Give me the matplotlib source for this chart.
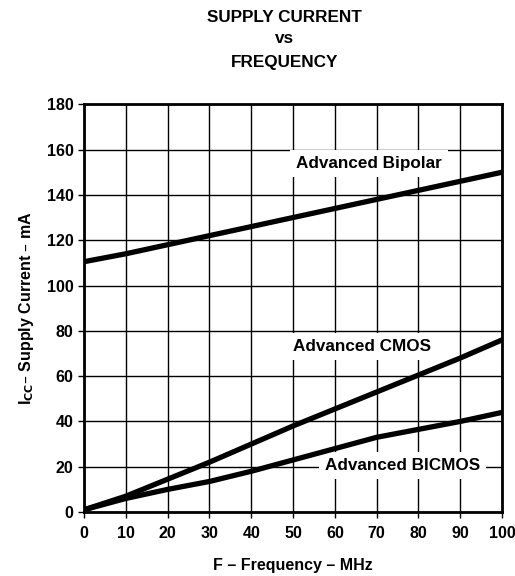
import numpy as np
import matplotlib.pyplot as plt

plt.rcParams['font.family'] = ['Liberation Sans', 'DejaVu Sans']
plt.rcParams['font.weight'] = 'bold'

# frequency (MHz) and supply current (mA)
freq = [0, 10, 20, 30, 40, 50, 60, 70, 80, 90, 100]
bipolar = [110.5, 114, 118, 122, 126, 130, 134, 138, 142, 146, 150]
cmos = [1, 7, 14.5, 22, 30, 38, 45.5, 53, 60.5, 68, 76]
bicmos = [1, 6, 10, 13.5, 18, 23, 28, 33, 36.5, 40, 44]

x_ticks = list(range(0, 101, 10))
y_ticks = list(range(0, 181, 20))

fig = plt.figure(figsize=(5.15, 5.76), dpi=100)
ax = fig.add_axes([0.163, 0.111, 0.812, 0.708])

ax.set_xlim(0, 100)
ax.set_ylim(0, 180)
ax.set_xticks(x_ticks)
ax.set_yticks(y_ticks)
ax.grid(True, color='black', linewidth=1.0)
ax.set_axisbelow(True)

for s in ax.spines.values():
    s.set_linewidth(2.0)
ax.tick_params(axis='both', labelsize=11.5, width=1.0, length=4, direction='out')
ax.tick_params(axis='x', pad=6)

for ys in (bipolar, cmos, bicmos):
    ax.plot(freq, ys, color='black', linewidth=3.8, solid_capstyle='butt', zorder=5)

box = dict(facecolor='white', edgecolor='none', boxstyle='square,pad=0.35')
ax.text(68.2, 154, 'Advanced Bipolar', ha='center', va='center', fontsize=12.3, fontweight='bold', bbox=box, zorder=4)
ax.text(66.4, 73, 'Advanced CMOS', ha='center', va='center', fontsize=12.3, fontweight='bold', bbox=box, zorder=4)
ax.text(76.2, 20.4, 'Advanced BICMOS', ha='center', va='center', fontsize=12.3, fontweight='bold', bbox=box, zorder=4)

ax.set_xlabel('F \u2013 Frequency \u2013 MHz', fontsize=11.5, fontweight='bold', labelpad=12)
ax.set_ylabel('I$_{\\mathbf{CC}}$\u2013 Supply Current \u2013 mA', fontsize=11.5, fontweight='bold', labelpad=8)

fig.text(0.552, 0.970, 'SUPPLY CURRENT', ha='center', va='center', fontsize=12.3, fontweight='bold')
fig.text(0.552, 0.934, 'vs', ha='center', va='center', fontsize=12.3, fontweight='bold')
fig.text(0.552, 0.892, 'FREQUENCY', ha='center', va='center', fontsize=12.3, fontweight='bold')

fig.savefig('out.png', dpi=100)
